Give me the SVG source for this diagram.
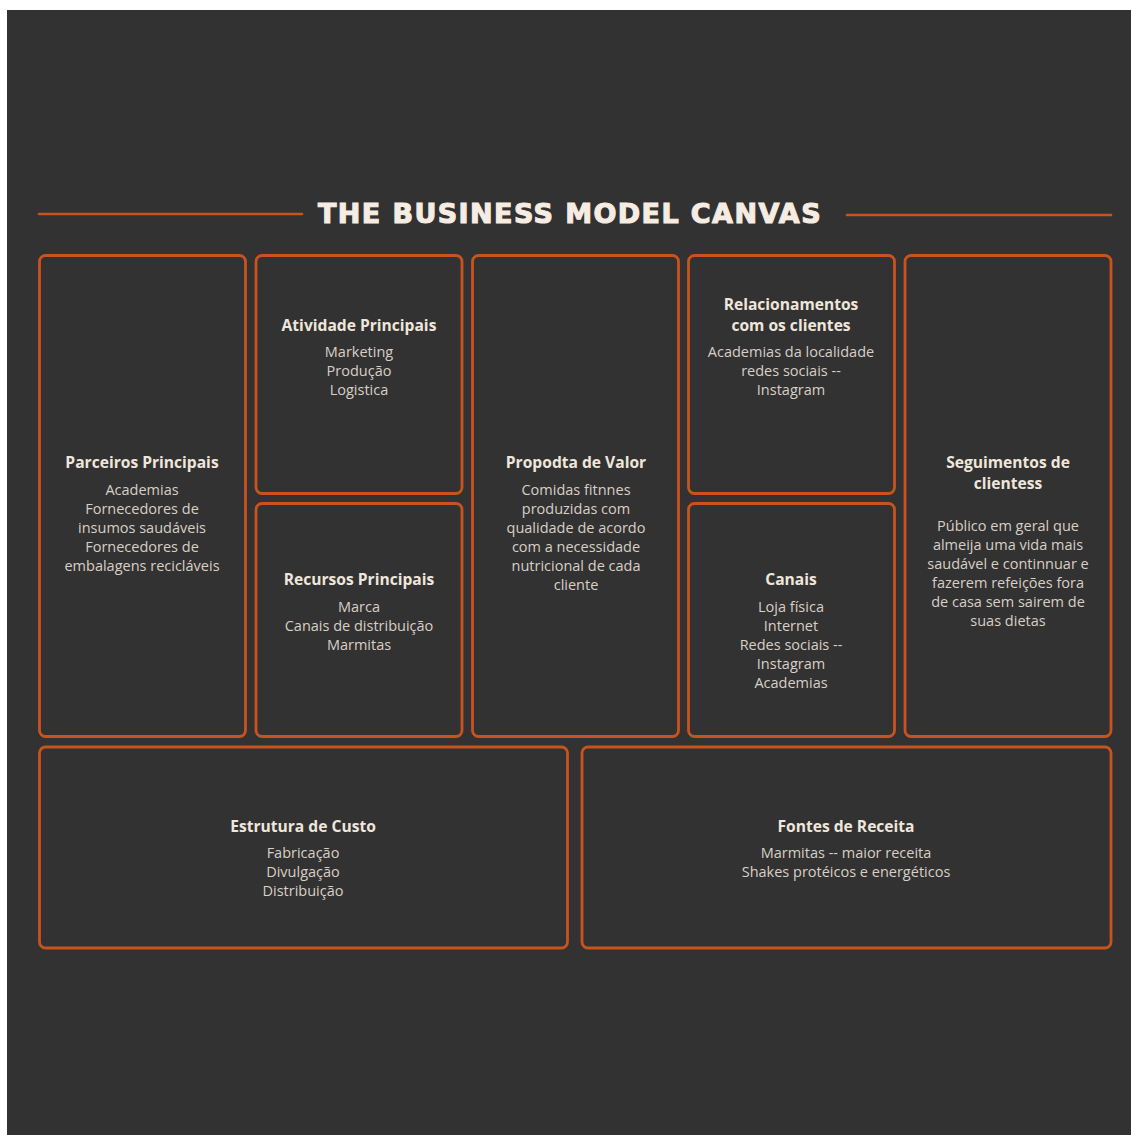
<svg xmlns="http://www.w3.org/2000/svg" width="1131" height="1135" viewBox="0 0 1131 1135">
  <style>
    .box { fill: none; stroke: #c8531f; stroke-width: 2.8; }
    .rule { stroke: #c8531f; stroke-width: 2.6; stroke-linecap: round; }
    .title { font-family: "DejaVu Sans", "Liberation Sans", sans-serif; font-weight: 700; font-size: 27px; fill: #f6ece2; stroke: #f6ece2; stroke-width: 1.1; letter-spacing: 1.4px; }
    .head { font-family: "Open Sans", "Noto Sans", sans-serif; font-weight: 700; font-size: 15.6px; fill: #efe6dc; text-anchor: middle; }
    .body { font-family: "Open Sans", "Noto Sans", sans-serif; font-size: 14.5px; fill: #d8cfc6; text-anchor: middle; }
  </style>
  <rect x="0" y="0" width="1131" height="1135" fill="#ffffff"/>
  <rect x="7" y="10" width="1124" height="1125" fill="#323232"/>

  <g id="title">
    <line class="rule" x1="39" y1="214" x2="302" y2="214"/>
    <line class="rule" x1="847" y1="215" x2="1111" y2="215"/>
    <text class="title" x="570" y="223" text-anchor="middle">THE BUSINESS MODEL CANVAS</text>
  </g>

  <g id="connectors"></g>

  <g id="parceiros">
    <rect class="box" x="39.5" y="255.5" width="206" height="481" rx="6"/>
    <text class="head" x="142" y="468">Parceiros Principais</text>
    <text class="body" x="142" y="495">Academias</text>
    <text class="body" x="142" y="514">Fornecedores de</text>
    <text class="body" x="142" y="533">insumos saudáveis</text>
    <text class="body" x="142" y="552">Fornecedores de</text>
    <text class="body" x="142" y="571">embalagens recicláveis</text>
  </g>

  <g id="atividades">
    <rect class="box" x="256" y="255.5" width="206" height="238" rx="6"/>
    <text class="head" x="359" y="331">Atividade Principais</text>
    <text class="body" x="359" y="357">Marketing</text>
    <text class="body" x="359" y="376">Produção</text>
    <text class="body" x="359" y="395">Logistica</text>
  </g>

  <g id="recursos">
    <rect class="box" x="256" y="503.5" width="206" height="233" rx="6"/>
    <text class="head" x="359" y="585">Recursos Principais</text>
    <text class="body" x="359" y="612">Marca</text>
    <text class="body" x="359" y="631">Canais de distribuição</text>
    <text class="body" x="359" y="650">Marmitas</text>
  </g>

  <g id="proposta">
    <rect class="box" x="472.5" y="255.5" width="206" height="481" rx="6"/>
    <text class="head" x="576" y="468">Propodta de Valor</text>
    <text class="body" x="576" y="495">Comidas fitnnes</text>
    <text class="body" x="576" y="514">produzidas com</text>
    <text class="body" x="576" y="533">qualidade de acordo</text>
    <text class="body" x="576" y="552">com a necessidade</text>
    <text class="body" x="576" y="571">nutricional de cada</text>
    <text class="body" x="576" y="590">cliente</text>
  </g>

  <g id="relacionamentos">
    <rect class="box" x="688.5" y="255.5" width="206" height="238" rx="6"/>
    <text class="head" x="791" y="310">Relacionamentos</text>
    <text class="head" x="791" y="331">com os clientes</text>
    <text class="body" x="791" y="357">Academias da localidade</text>
    <text class="body" x="791" y="376">redes sociais --</text>
    <text class="body" x="791" y="395">Instagram</text>
  </g>

  <g id="canais">
    <rect class="box" x="688.5" y="503.5" width="206" height="233" rx="6"/>
    <text class="head" x="791" y="585">Canais</text>
    <text class="body" x="791" y="612">Loja física</text>
    <text class="body" x="791" y="631">Internet</text>
    <text class="body" x="791" y="650">Redes sociais --</text>
    <text class="body" x="791" y="669">Instagram</text>
    <text class="body" x="791" y="688">Academias</text>
  </g>

  <g id="segmentos">
    <rect class="box" x="905" y="255.5" width="206" height="481" rx="6"/>
    <text class="head" x="1008" y="468">Seguimentos de</text>
    <text class="head" x="1008" y="489">clientess</text>
    <text class="body" x="1008" y="531">Público em geral que</text>
    <text class="body" x="1008" y="550">almeija uma vida mais</text>
    <text class="body" x="1008" y="569">saudável e continnuar e</text>
    <text class="body" x="1008" y="588">fazerem refeições fora</text>
    <text class="body" x="1008" y="607">de casa sem sairem de</text>
    <text class="body" x="1008" y="626">suas dietas</text>
  </g>

  <g id="custos">
    <rect class="box" x="39.5" y="747" width="528" height="201" rx="6"/>
    <text class="head" x="303" y="832">Estrutura de Custo</text>
    <text class="body" x="303" y="858">Fabricação</text>
    <text class="body" x="303" y="877">Divulgação</text>
    <text class="body" x="303" y="896">Distribuição</text>
  </g>

  <g id="receitas">
    <rect class="box" x="582" y="747" width="529" height="201" rx="6"/>
    <text class="head" x="846" y="832">Fontes de Receita</text>
    <text class="body" x="846" y="858">Marmitas -- maior receita</text>
    <text class="body" x="846" y="877">Shakes protéicos e energéticos</text>
  </g>
</svg>
